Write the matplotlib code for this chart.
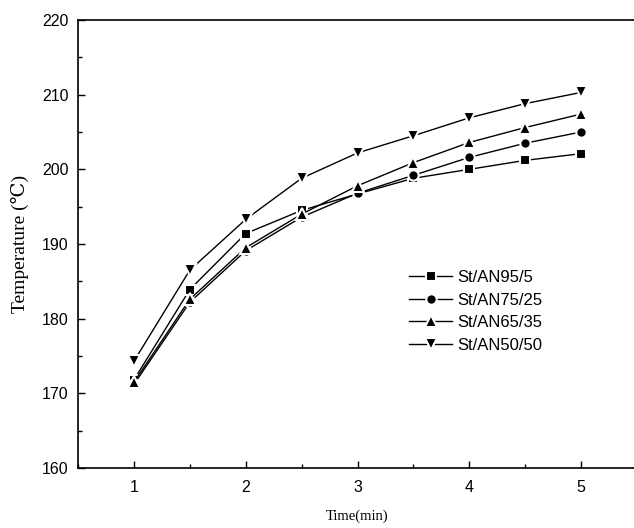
import matplotlib
matplotlib.use("Agg")
import matplotlib.pyplot as plt
from matplotlib.ticker import MultipleLocator

time_min = [1, 1.5, 2, 2.5, 3, 3.5, 4, 4.5, 5]
st_an_95_5 = [171.8, 183.9, 191.4, 194.5, 196.7, 198.8, 200.0, 201.2, 202.1]
st_an_75_25 = [171.2, 182.2, 189.1, 193.6, 196.8, 199.2, 201.6, 203.5, 205.0]
st_an_65_35 = [171.5, 182.6, 189.5, 194.0, 197.8, 200.9, 203.6, 205.6, 207.4]
st_an_50_50 = [174.3, 186.5, 193.3, 198.8, 202.2, 204.5, 206.9, 208.8, 210.3]

series = [
    ("St/AN95/5", st_an_95_5, "s", 7),
    ("St/AN75/25", st_an_75_25, "o", 7.5),
    ("St/AN65/35", st_an_65_35, "^", 9),
    ("St/AN50/50", st_an_50_50, "v", 9),
]

fig = plt.figure(figsize=(6.34, 5.28), dpi=100)
ax = fig.add_axes([78/634, 1-468/528, (637-78)/634, (468-20)/528])

for label, vals, m, ms in series:
    ax.plot(time_min, vals, color="black", lw=1.0, marker=m, ms=ms,
            markerfacecolor="black", markeredgecolor="white", markeredgewidth=1.5,
            label=label)

ax.set_xlim(0.5, 5.5)
ax.set_ylim(160, 220)
ax.xaxis.set_major_locator(MultipleLocator(1))
ax.xaxis.set_minor_locator(MultipleLocator(0.5))
ax.yaxis.set_major_locator(MultipleLocator(10))
ax.yaxis.set_minor_locator(MultipleLocator(5))
ax.tick_params(which="both", direction="in", top=False, right=False, width=1.0)
ax.tick_params(which="major", length=5)
ax.tick_params(which="minor", length=3)
ax.tick_params(axis="x", which="major", pad=9)
ax.tick_params(axis="y", which="major", pad=7)
for lbl in ax.get_xticklabels() + ax.get_yticklabels():
    lbl.set_fontfamily("Liberation Sans")
    lbl.set_fontsize(11.5)
for sp in ax.spines.values():
    sp.set_linewidth(1.2)

ax.set_xlabel("Time(min)", family=["Liberation Serif", "DejaVu Serif"], fontsize=10.5, labelpad=10)
ax.set_ylabel("Temperature (℃)", family=["Liberation Serif", "DejaVu Serif"], fontsize=14, labelpad=9)

leg = ax.legend(loc="center left", bbox_to_anchor=(409/634, 1-311.5/528),
                bbox_transform=fig.transFigure, frameon=False, borderpad=0,
                borderaxespad=0, handlelength=2.6, handletextpad=0.3,
                labelspacing=0.45, prop={"family": "Liberation Sans", "size": 12})

fig.savefig("out.png", dpi=100)
